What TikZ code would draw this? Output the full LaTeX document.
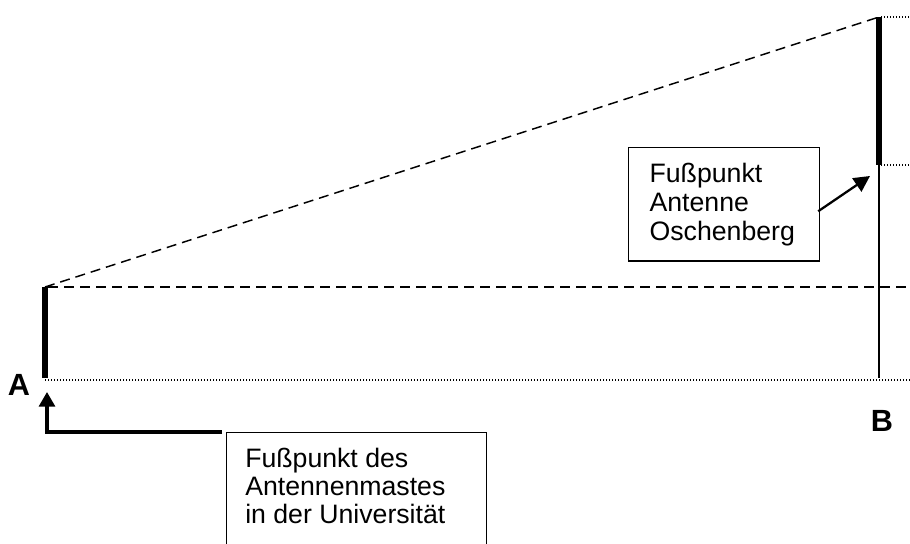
\documentclass[tikz,border=0pt]{standalone}
\usepackage{fontspec}
\setmainfont{Liberation Sans}
\usetikzlibrary{arrows.meta,calc}
\begin{document}
\begin{tikzpicture}[x=0.75pt,y=-0.75pt,
  mast/.style={line width=3.9pt},
  thinmast/.style={line width=1.1pt},
  dotl/.style={line width=0.8pt, dash pattern=on 0.8pt off 1.45pt},
  dashl/.style={line width=1.1pt, dash pattern=on 7.5pt off 4.5pt},
  box/.style={draw, line width=0.9pt, rectangle},
  lbl/.style={font=\fontsize{20}{21.75}\selectfont, align=left},
  lblA/.style={font=\fontsize{20}{21}\selectfont, align=left},
  big/.style={font=\fontsize{23}{26}\selectfont\bfseries, inner sep=0pt},
  arrA/.style={line width=2.4pt, line join=miter, -{Triangle[length=11pt,width=12pt]}},
  arrB/.style={line width=1.7pt, -{Triangle[length=12pt,width=12pt]}},
]
\useasboundingbox (0,0) rectangle (910,543);
\clip (0,0) rectangle (910,543);

% key points
\coordinate (Atop) at (45,287);
\coordinate (Abot) at (45,378);
\coordinate (Btop) at (879,17);
\coordinate (Bmid) at (879,165);
\coordinate (Bbot) at (879,378);
\coordinate (base0) at (45,380);
\coordinate (base1) at (910,380);
\coordinate (hor0) at (48,287);
\coordinate (hor1) at (910,287);
\coordinate (top1) at (910,17);
\coordinate (mid1) at (910,165);
\coordinate (Atip) at (47,392);
\coordinate (Btip) at (870,176);

% reference lines
\draw[dotl] (base0) -- (base1);
\draw[dashl] (hor0) -- (hor1);
\draw[dashl] (Atop) -- (Btop);
\draw[dotl] ($(Btop)+(2,0)$) -- (top1);
\draw[dotl] ($(Bmid)+(2,0)$) -- (mid1);

% masts
\draw[mast] (Atop) -- (Abot);
\draw[mast] (Btop) -- (Bmid);
\draw[thinmast] (Bmid) -- (Bbot);

% labels
\node[big] (labA) at (19,385) {A};
\node[big] (labB) at (882,421) {B};

% box B
\node[box, lbl, anchor=north west, inner xsep=15.75pt, inner ysep=0pt,
      text width=111.75pt, minimum height=85pt] (boxB) at (628,147)
  {Fußpunkt\\Antenne\\Oschenberg};
\draw[arrB] ($(boxB.east)+(-2,7)$) -- (Btip);

% box A
\node[box, anchor=north west, inner sep=0pt, minimum width=195pt,
      minimum height=105pt] (boxA) at (226,432) {};
\node[lblA, anchor=north west, inner sep=0pt] (txtA) at (245,448)
  {Fußpunkt des\\Antennenmastes\\in der Universität};
\draw[arrA] ($(boxA.north west)+(-4,0)$) -| (Atip);
\end{tikzpicture}
\end{document}
